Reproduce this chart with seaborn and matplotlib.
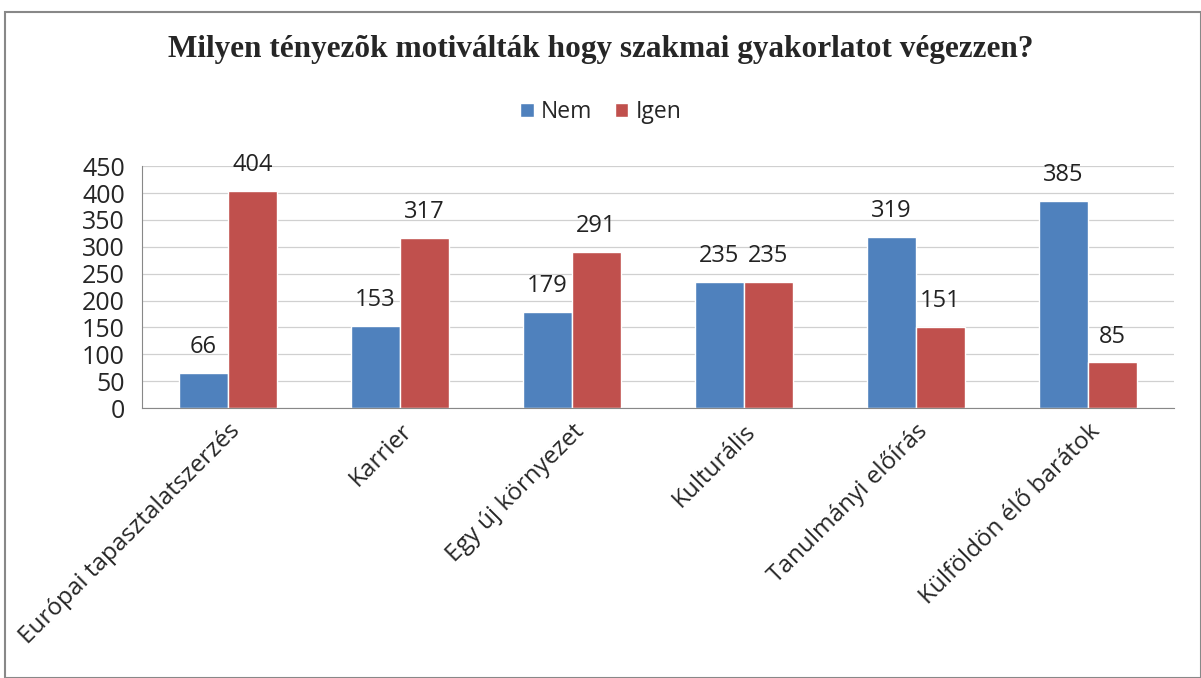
import numpy as np
import pandas as pd
import seaborn as sns
import matplotlib.pyplot as plt
from matplotlib.patches import Rectangle

# Adatok
kategoriak = ['Európai tapasztalatszerzés', 'Karrier', 'Egy új környezet',
              'Kulturális', 'Tanulmányi előírás', 'Külföldön élő barátok']
nem = [66, 153, 179, 235, 319, 385]
igen = [404, 317, 291, 235, 151, 85]
y_ticks = [0, 50, 100, 150, 200, 250, 300, 350, 400, 450]

df = pd.DataFrame({'kategoria': kategoriak * 2,
                   'valasz': ['Nem'] * 6 + ['Igen'] * 6,
                   'ertek': nem + igen})

sns.set_style('white')
plt.rcParams['font.family'] = ['Open Sans', 'DejaVu Sans']

fig = plt.figure(figsize=(12.01, 6.78), dpi=100)
ax = fig.add_axes([0.118, 0.398, 0.8595, 0.357])

sns.barplot(data=df, x='kategoria', y='ertek', hue='valasz',
            palette={'Nem': '#4F81BD', 'Igen': '#C0504D'},
            width=0.57, saturation=1, ax=ax, legend=True)

for c in ax.containers:
    ax.bar_label(c, padding=10, fontsize=17, color='#222222')

ax.set_ylim(0, 450)
ax.set_yticks(y_ticks)
ax.set_xlim(-0.5, len(kategoriak) - 0.5)
ax.grid(axis='y', color='#d0d0d0', linewidth=0.9)
ax.set_axisbelow(True)
ax.set_xlabel('')
ax.set_ylabel('')

for s in ['top', 'right']:
    ax.spines[s].set_visible(False)
for s in ['left', 'bottom']:
    ax.spines[s].set_color('#888888')

# tick marks a kategóriák határán
ax.set_xticks(np.arange(-0.5, len(kategoriak)), minor=True)
ax.tick_params(axis='x', which='major', length=0, pad=8)
ax.tick_params(axis='x', which='minor', length=6, color='#888888', direction='out')
ax.tick_params(axis='y', length=6, color='#888888', direction='out', labelsize=18, pad=6)
ax.set_xticks(range(len(kategoriak)))
ax.set_xticklabels(kategoriak, rotation=45, ha='right', rotation_mode='anchor', fontsize=17.5)

leg = ax.legend(loc='center', bbox_to_anchor=(0.5, (678 - 112) / 678), bbox_transform=fig.transFigure,
                ncol=2, frameon=False, fontsize=16.5, handlelength=0.6, handleheight=0.6,
                handletextpad=0.3, columnspacing=1.0)

fig.text(0.5, (678 - 50) / 678, 'Milyen tényezõk motiválták hogy szakmai gyakorlatot végezzen?',
         ha='center', va='center', fontsize=22.5, fontweight='bold', family='Liberation Serif')

fig.patches.append(Rectangle((5 / 1201, 0), 1 - 5 / 1201, (678 - 12) / 678, transform=fig.transFigure,
                             fill=False, edgecolor='#888888', linewidth=1.5))

fig.savefig('out.png', dpi=100)
